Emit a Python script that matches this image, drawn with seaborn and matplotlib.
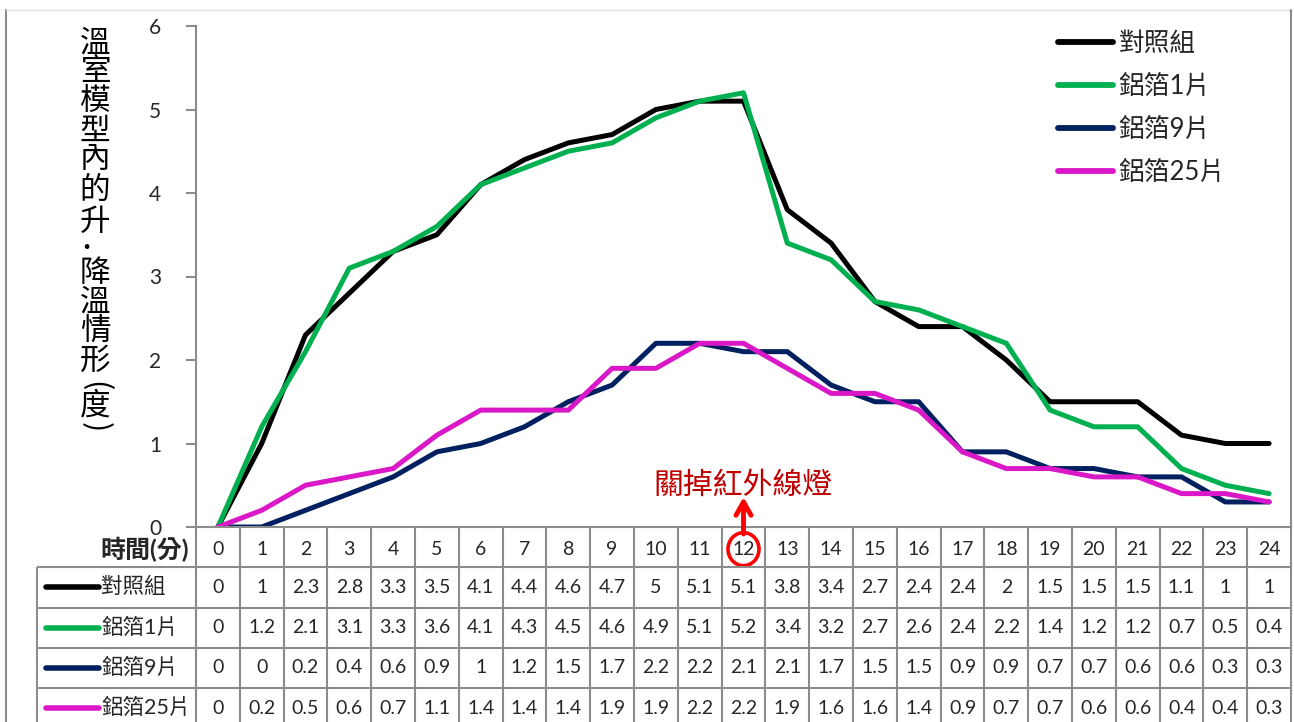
import pandas as pd
import seaborn as sns
import matplotlib.pyplot as plt
from matplotlib import transforms
from matplotlib.lines import Line2D
from matplotlib.patches import Ellipse

minutes = list(range(25))
series_names = ["對照組", "鋁箔1片", "鋁箔9片", "鋁箔25片"]
control = [0, 1, 2.3, 2.8, 3.3, 3.5, 4.1, 4.4, 4.6, 4.7, 5, 5.1, 5.1, 3.8, 3.4, 2.7, 2.4, 2.4, 2, 1.5, 1.5, 1.5, 1.1, 1, 1]
foil_1 = [0, 1.2, 2.1, 3.1, 3.3, 3.6, 4.1, 4.3, 4.5, 4.6, 4.9, 5.1, 5.2, 3.4, 3.2, 2.7, 2.6, 2.4, 2.2, 1.4, 1.2, 1.2, 0.7, 0.5, 0.4]
foil_9 = [0, 0, 0.2, 0.4, 0.6, 0.9, 1, 1.2, 1.5, 1.7, 2.2, 2.2, 2.1, 2.1, 1.7, 1.5, 1.5, 0.9, 0.9, 0.7, 0.7, 0.6, 0.6, 0.3, 0.3]
foil_25 = [0, 0.2, 0.5, 0.6, 0.7, 1.1, 1.4, 1.4, 1.4, 1.9, 1.9, 2.2, 2.2, 1.9, 1.6, 1.6, 1.4, 0.9, 0.7, 0.7, 0.6, 0.6, 0.4, 0.4, 0.3]
line_colors = ["#000000", "#00B050", "#002060", "#DA18C8"]
ylabel_chars = ["溫", "室", "模", "型", "內", "的", "升", "·", "降", "溫", "情", "形", "(", "度", ")"]
ylabel_ypx = [43, 72, 101, 131, 160, 190, 222, 248, 273, 302, 331, 361, 386, 406, 427]
note_text = "關掉紅外線燈"
time_label = "時間(分)"
note_minute = 12

sns.set_theme(style="white")
plt.rcParams["font.family"] = ["Lato", "Noto Sans CJK TC", "DejaVu Sans"]

W, H = 1294, 722
X0, X1 = 196, 1291
COLW = (X1 - X0) / 25
ROWH = 40.25
GRID = "#8c8c8c"

fig = plt.figure(figsize=(W / 100, H / 100), dpi=100)
ax = fig.add_axes([X0 / W, 1 - 527 / H, (X1 - X0) / W, (527 - 26) / H])

values = control + foil_1 + foil_9 + foil_25
groups = sum([[n] * len(minutes) for n in series_names], [])
df = pd.DataFrame({"分": minutes * 4, "值": values, "組": groups})
sns.lineplot(data=df, x="分", y="值", hue="組", hue_order=series_names,
             palette=dict(zip(series_names, line_colors)), linewidth=3.6,
             solid_joinstyle="round", solid_capstyle="round", ax=ax)

ax.set_xlim(-0.5, 24.5)
ax.set_ylim(0, 6)
ax.set_yticks(range(7))
ax.set_xticks([])
ax.set_xlabel("")
ax.set_ylabel("")
for s in ["top", "right"]:
    ax.spines[s].set_visible(False)
for s in ["left", "bottom"]:
    ax.spines[s].set_color(GRID)
    ax.spines[s].set_linewidth(1.5)
ax.tick_params(axis="y", left=True, length=7, width=1.5, color=GRID, pad=18, labelsize=15)

handles, labels = ax.get_legend_handles_labels()
leg = ax.legend(handles, labels, loc="upper left", bbox_to_anchor=(1058 / W, 1 - 31 / H),
                bbox_transform=fig.transFigure, frameon=False, fontsize=18.5,
                handlelength=2.15, handletextpad=0.2, labelspacing=0.7,
                borderpad=0, borderaxespad=0)
for h in leg.legend_handles:
    h.set_linewidth(4.2)
    h.set_solid_capstyle("round")

# y label, stacked characters
for ch, yp in zip(ylabel_chars, ylabel_ypx):
    x = 86 if ch == "·" else 95
    rot = -90 if ch in "()" else 0
    fs = 16 if ch == "·" else 22
    fig.text(x / W, 1 - yp / H, ch, ha="center", va="center", fontsize=fs,
             rotation=rot, rotation_mode="anchor", family=["Noto Sans CJK TC"],
             fontweight="medium", color="black")

# data table
tab = fig.add_axes([37 / W, 0, (X1 - 37) / W, 195 / H])
xl = -0.5 - (X0 - 37) / COLW
ymax = 195 / ROWH
tab.set_xlim(xl, 24.5)
tab.set_ylim(ymax, 0)
tab.axis("off")


def px2x(p):
    return -0.5 + (p - X0) / COLW


tab.hlines([1, 2, 3, 4], xl, 24.5, color=GRID, lw=1.5, clip_on=False)
tab.vlines([k - 0.5 for k in range(26)], 0, ymax, color=GRID, lw=1.5, clip_on=False)
tab.vlines(xl, 1, ymax, color=GRID, lw=1.5, clip_on=False)

for m in minutes:
    tab.text(m, 0.55, str(m), ha="center", va="center", fontsize=14)
tab.text(px2x(189), 0.55, time_label, ha="right", va="center", fontsize=18, fontweight="bold")

for r, (name, vals, col) in enumerate(zip(series_names, [control, foil_1, foil_9, foil_25], line_colors)):
    y = r + 1.5
    tab.plot([px2x(46), px2x(99)], [y, y], color=col, lw=4, solid_capstyle="round", clip_on=False)
    tab.text(px2x(101), y, name, ha="left", va="center", fontsize=15.5)
    for m, v in zip(minutes, vals):
        tab.text(m, y, f"{v:g}", ha="center", va="center", fontsize=14)

tab.add_patch(Ellipse((note_minute, 0.55), 31 / COLW, 33 / ROWH, fill=False,
                      ec="#FF0000", lw=2.6, clip_on=False))

blend = transforms.blended_transform_factory(ax.transData, fig.transFigure)
ax.annotate("", xy=(note_minute, 1 - 497 / H), xycoords=blend,
            xytext=(note_minute, 1 - 534 / H), textcoords=blend,
            arrowprops=dict(arrowstyle="->,head_length=0.8,head_width=0.45",
                            color="#FF0000", lw=3.5, shrinkA=0, shrinkB=0),
            annotation_clip=False)
ax.text(note_minute, 1 - 485 / H, note_text, transform=blend, ha="center", va="center",
        fontsize=21.5, color="#C00000", family=["Noto Sans CJK TC"])

# chart border
fig.add_artist(Line2D([6 / W, 6 / W], [0, 1 - 10 / H], transform=fig.transFigure, color=GRID, lw=1.5))
fig.add_artist(Line2D([6 / W, X1 / W], [1 - 10 / H, 1 - 10 / H], transform=fig.transFigure, color="#e0e0e0", lw=1))
fig.add_artist(Line2D([X1 / W, X1 / W], [1 - 527 / H, 1 - 10 / H], transform=fig.transFigure, color=GRID, lw=1.5))

fig.savefig("out.png", dpi=100)
